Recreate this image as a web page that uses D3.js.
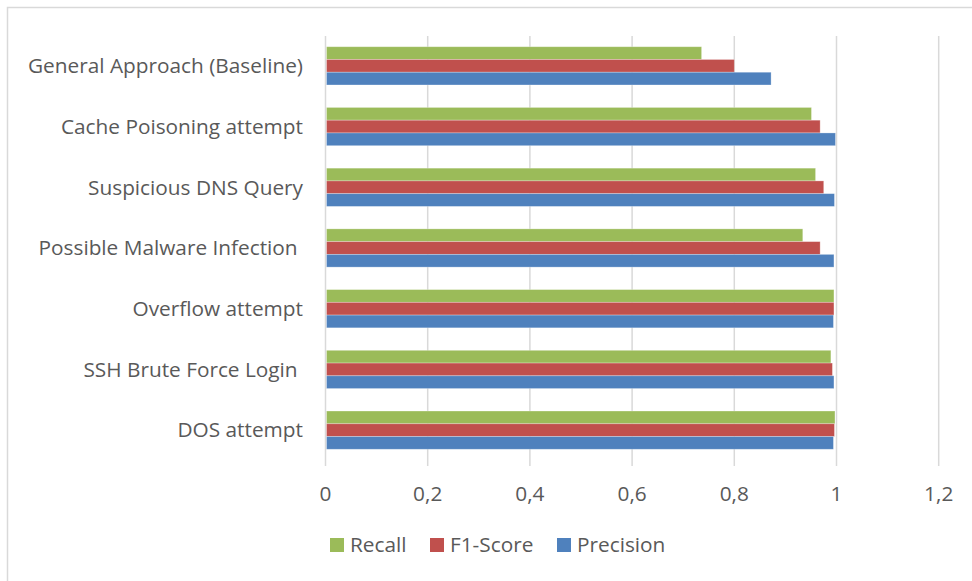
<!DOCTYPE html>
<html>
<head>
<meta charset="utf-8">
<script src="https://cdn.jsdelivr.net/npm/d3@7"></script>
<style>
  html, body { margin: 0; padding: 0; background: #fff; }
  svg { display: block; font-family: "Open Sans", "Noto Sans", sans-serif; }
  text { white-space: pre; }
</style>
</head>
<body>
<svg id="chart" width="972" height="581"></svg>
<script>
// Detection categories, top to bottom
const categories = [
  "General Approach (Baseline)",
  "Cache Poisoning attempt",
  "Suspicious DNS Query",
  "Possible Malware Infection ",
  "Overflow attempt",
  "SSH Brute Force Login ",
  "DOS attempt"
];

// Metric values per category (same order as categories)
const recall    = [0.736, 0.951, 0.959, 0.934, 0.995, 0.989, 0.997];
const f1Score   = [0.800, 0.968, 0.975, 0.968, 0.995, 0.992, 0.996];
const precision = [0.872, 0.998, 0.996, 0.995, 0.994, 0.995, 0.994];

const seriesNames = ["Recall", "F1-Score", "Precision"];
const seriesColors = ["#9BBB59", "#C0504D", "#4F81BD"];
const seriesValues = [recall, f1Score, precision];

const tickValues = [0, 0.2, 0.4, 0.6, 0.8, 1, 1.2];
const tickLabels = ["0", "0,2", "0,4", "0,6", "0,8", "1", "1,2"];

const svg = d3.select("#chart");
const textColor = "#595959";
const fontSize = 20.8;

// Chart frame
svg.append("path")
  .attr("d", "M7.5,581 V7.5 H972")
  .attr("fill", "none")
  .attr("stroke", "#d9d9d9")
  .attr("stroke-width", 1.5);

const plot = { left: 325.5, right: 938.7, top: 36, bottom: 466 };

const x = d3.scaleLinear().domain([0, 1.2]).range([plot.left, plot.right]);
const y = d3.scaleBand().domain(categories).range([35.5, 460.5])
  .paddingInner(0.37).paddingOuter(0.185);
const ySub = d3.scaleBand().domain(seriesNames).range([0, y.bandwidth()]);

// Vertical gridlines
svg.append("g").selectAll("line")
  .data(tickValues)
  .join("line")
  .attr("x1", d => x(d)).attr("x2", d => x(d))
  .attr("y1", plot.top).attr("y2", plot.bottom)
  .attr("stroke", "#d9d9d9")
  .attr("stroke-width", 1.5);

// Bars
const rows = [];
categories.forEach((c, i) => {
  seriesNames.forEach((s, j) => {
    rows.push({ cat: c, series: s, color: seriesColors[j], value: seriesValues[j][i] });
  });
});

svg.append("g").selectAll("rect")
  .data(rows)
  .join("rect")
  .attr("x", x(0) + 1)
  .attr("y", d => y(d.cat) + ySub(d.series))
  .attr("width", d => x(d.value) - x(0) - 1)
  .attr("height", ySub.bandwidth())
  .attr("fill", d => d.color)
  .attr("stroke", "rgba(255,255,255,0.35)")
  .attr("stroke-width", 0.8);

// Category labels
svg.append("g").selectAll("text")
  .data(categories)
  .join("text")
  .attr("x", 303)
  .attr("y", d => y(d) + y.bandwidth() / 2)
  .attr("dy", "0.35em")
  .attr("text-anchor", "end")
  .attr("font-size", fontSize)
  .attr("fill", textColor)
  .text(d => d);

// Value axis labels
svg.append("g").selectAll("text")
  .data(tickValues)
  .join("text")
  .attr("x", d => x(d))
  .attr("y", 494)
  .attr("dy", "0.35em")
  .attr("text-anchor", "middle")
  .attr("font-size", fontSize)
  .attr("fill", textColor)
  .text((d, i) => tickLabels[i]);

// Legend
const legendX = [330, 430, 557];
const legend = svg.append("g").selectAll("g")
  .data(seriesNames)
  .join("g")
  .attr("transform", (d, i) => `translate(${legendX[i]},545)`);
legend.append("rect")
  .attr("x", 0).attr("y", -7)
  .attr("width", 14).attr("height", 14)
  .attr("fill", (d, i) => seriesColors[i]);
legend.append("text")
  .attr("x", 20)
  .attr("y", 0)
  .attr("dy", "0.35em")
  .attr("font-size", fontSize)
  .attr("fill", textColor)
  .text(d => d);
</script>
</body>
</html>
